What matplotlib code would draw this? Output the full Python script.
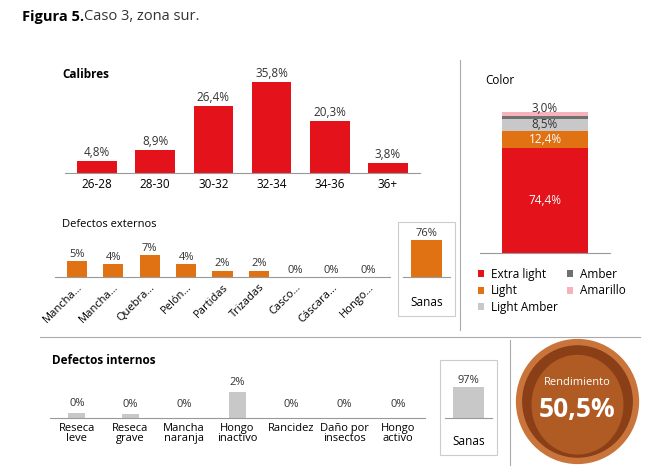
import matplotlib
matplotlib.use("Agg")
import matplotlib.pyplot as plt
from matplotlib.patches import Ellipse, Rectangle
from matplotlib.lines import Line2D

plt.rcParams['font.family'] = ['Open Sans', 'DejaVu Sans']

cal_labels = ["26-28", "28-30", "30-32", "32-34", "34-36", "36+"]
cal_vals = [4.8, 8.9, 26.4, 35.8, 20.3, 3.8]

color_names = ["Extra light", "Light", "Light Amber", "Amber", "Amarillo"]
color_vals = [74.4, 12.4, 8.5, 1.7, 3.0]
color_show = ["74,4%", "12,4%", "8,5%", "", "3,0%"]
color_cols = ["#e3121b", "#e07213", "#c8c8c8", "#707070", "#f6b3bb"]

ext_labels = ["Mancha…", "Mancha…", "Quebra…", "Pelón…", "Partidas", "Trizadas", "Casco…", "Cáscara…", "Hongo…"]
ext_vals = [5, 4, 7, 4, 2, 2, 0, 0, 0]
ext_sanas = 76

int_labels = ["Reseca\nleve", "Reseca\ngrave", "Mancha\nnaranja", "Hongo\ninactivo", "Rancidez", "Daño por\ninsectos", "Hongo\nactivo"]
int_vals = [0.4, 0.3, 0, 2, 0, 0, 0]
int_sanas = 97

rendimiento = 50.5

W, H = 658, 472
fig = plt.figure(figsize=(W/100, H/100), dpi=100)

def ax_px(x0, y0, x1, y1):
    return fig.add_axes([x0/W, 1-y1/H, (x1-x0)/W, (y1-y0)/H])

def fmt(v, d=1):
    return (f"{v:.{d}f}").replace(".", ",") + "%"

def clean(ax):
    for s in ["top", "right", "left"]:
        ax.spines[s].set_visible(False)
    ax.spines["bottom"].set_color("#999999")
    ax.set_yticks([])
    ax.tick_params(axis="x", length=0)
    ax.patch.set_alpha(0)

fig.text(22/W, 1-17/H, "Figura 5.", fontsize=10.5, fontweight="bold", va="center")
fig.text(84/W, 1-17/H, "Caso 3, zona sur.", fontsize=10.5, va="center", color="#333333")

# Calibres
fig.text(62/W, 1-75/H, "Calibres", fontsize=8.5, fontweight="bold", va="center")
ax = ax_px(65, 82, 420, 173)
x = range(len(cal_vals))
ax.bar(x, cal_vals, width=0.68, color="#e3121b")
for i, v in enumerate(cal_vals):
    ax.text(i, v + 0.8, fmt(v), ha="center", va="bottom", fontsize=8.5, color="#333333")
ax.set_ylim(0, 35.8)
ax.set_xlim(-0.55, len(cal_vals)-0.45)
ax.set_xticks(list(x)); ax.set_xticklabels(cal_labels, fontsize=8.5)
clean(ax)

# Color
fig.text(485/W, 1-80/H, "Color", fontsize=8.5, va="center")
ax = ax_px(480, 112, 610, 253)
bottom = 0
for v, lab, c, n in zip(color_vals, color_show, color_cols, color_names):
    ax.bar(0, v, bottom=bottom, width=0.72, color=c, label=n)
    if lab:
        tc = "white" if c in ("#e3121b", "#e07213") else "#333333"
        ypos = bottom + v/2
        if n == "Amarillo":
            ypos = bottom + v + 2.5
        ax.text(0, ypos, lab, ha="center", va="center", fontsize=8.5, color=tc)
    bottom += v
ax.set_ylim(0, 100); ax.set_xlim(-0.55, 0.55)
ax.set_xticks([])
clean(ax)
leg = ax.legend(loc="upper left", bbox_to_anchor=(-0.1, -0.03), ncol=2, frameon=False,
                fontsize=8.5, handlelength=0.5, handleheight=0.5, columnspacing=0.8,
                handletextpad=0.6, labelspacing=0.3)
fig.add_artist(Line2D([460/W, 460/W], [1-60/H, 1-330/H], color="#aaaaaa", lw=0.8))

# Defectos externos
fig.text(62/W, 1-224/H, "Defectos externos", fontsize=8, va="center")
ax = ax_px(55, 255, 390, 277)
x = range(len(ext_vals))
ax.bar(x, ext_vals, width=0.55, color="#e07213")
for i, v in enumerate(ext_vals):
    ax.text(i, v + 0.4, f"{v}%", ha="center", va="bottom", fontsize=8, color="#333333")
ax.set_ylim(0, 7); ax.set_xlim(-0.6, len(ext_vals)-0.4)
ax.set_xticks(list(x)); ax.set_xticklabels(ext_labels, fontsize=8, rotation=45, ha="right", rotation_mode="anchor")
clean(ax)
fig.add_artist(Rectangle((398/W, 1-316/H), 57/W, 94/H, fill=False, ec="#cccccc", lw=0.8))
ax = ax_px(403, 240, 450, 277)
ax.bar(0, ext_sanas, width=0.8, color="#e07213")
ax.text(0, ext_sanas + 3, f"{ext_sanas}%", ha="center", va="bottom", fontsize=8, color="#333333")
ax.set_ylim(0, ext_sanas); ax.set_xlim(-0.6, 0.6)
ax.set_xticks([0]); ax.set_xticklabels(["Sanas"], fontsize=8.5)
ax.tick_params(axis="x", pad=14)
clean(ax)

fig.add_artist(Line2D([40/W, 640/W], [1-337/H, 1-337/H], color="#aaaaaa", lw=0.8))
fig.add_artist(Line2D([510/W, 510/W], [1-340/H, 1-465/H], color="#aaaaaa", lw=0.8))

# Defectos internos
fig.text(52/W, 1-360/H, "Defectos internos", fontsize=8.5, fontweight="bold", va="center")
ax = ax_px(50, 392, 425, 418)
x = range(len(int_vals))
ax.bar(x, int_vals, width=0.32, color="#c8c8c8")
for i, v in enumerate(int_vals):
    ax.text(i, max(v, 0.3) + 0.3, f"{round(v)}%", ha="center", va="bottom", fontsize=8, color="#333333")
ax.set_ylim(0, 2); ax.set_xlim(-0.5, len(int_vals)-0.5)
ax.set_xticks(list(x)); ax.set_xticklabels(int_labels, fontsize=8, linespacing=0.95)
clean(ax)
fig.add_artist(Rectangle((440/W, 1-455/H), 57/W, 95/H, fill=False, ec="#cccccc", lw=0.8))
ax = ax_px(445, 387, 492, 418)
ax.bar(0, int_sanas, width=0.8, color="#c8c8c8")
ax.text(0, int_sanas + 4, f"{int_sanas}%", ha="center", va="bottom", fontsize=8, color="#333333")
ax.set_ylim(0, int_sanas); ax.set_xlim(-0.6, 0.6)
ax.set_xticks([0]); ax.set_xticklabels(["Sanas"], fontsize=8.5)
ax.tick_params(axis="x", pad=12)
clean(ax)

# Walnut badge
ax = ax_px(515, 338, 640, 465)
ax.set_xlim(-1, 1); ax.set_ylim(-1, 1); ax.axis("off")
ax.add_patch(Ellipse((0, 0), 1.95, 1.95, color="#c9743a"))
ax.add_patch(Ellipse((0, 0), 1.75, 1.75, color="#8a3f17"))
ax.add_patch(Ellipse((0, -0.05), 1.45, 1.55, color="#b05a24"))
ax.text(0, 0.3, "Rendimiento", ha="center", va="center", fontsize=8, color="white")
ax.text(0, -0.12, fmt(rendimiento), ha="center", va="center", fontsize=19, fontweight="bold", color="white")

fig.savefig("out.png", dpi=100)
